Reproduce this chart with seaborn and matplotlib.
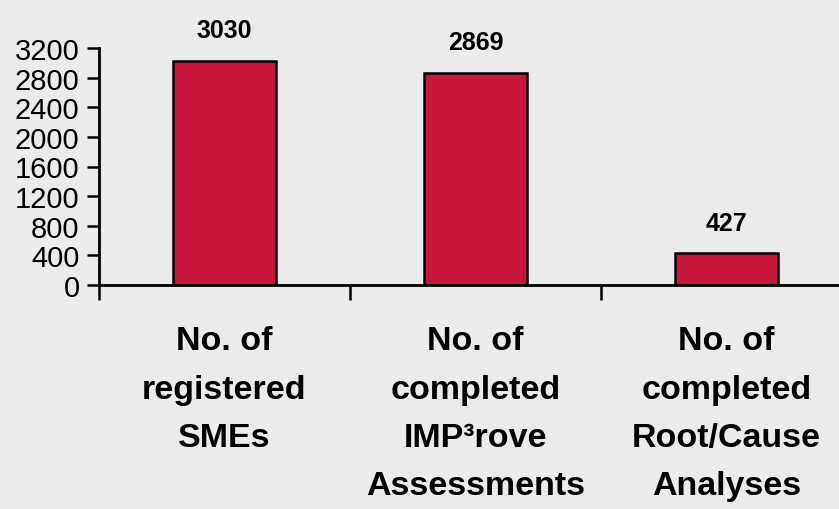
import matplotlib
matplotlib.use("Agg")
import matplotlib.pyplot as plt
import seaborn as sns
import pandas as pd

# data
categories = ["No. of\nregistered\nSMEs",
              "No. of\ncompleted\nIMP³rove\nAssessments",
              "No. of\ncompleted\nRoot/Cause\nAnalyses"]
values = [3030, 2869, 427]
yticks = [0, 400, 800, 1200, 1600, 2000, 2400, 2800, 3200]

df = pd.DataFrame({"cat": categories, "val": values})

sns.set_theme(style="ticks")
plt.rcParams['font.family'] = ['Liberation Sans', 'DejaVu Sans']
plt.rcParams['text.color'] = 'black'
plt.rcParams['xtick.color'] = 'black'
plt.rcParams['ytick.color'] = 'black'

bg = "#EBEBEB"
fig = plt.figure(figsize=(8.39, 5.10), dpi=100, facecolor=bg)
ax = fig.add_axes([99 / 839, 224 / 510, 753 / 839, 237 / 510])
ax.set_facecolor(bg)

sns.barplot(data=df, x="cat", y="val", color="#C8173C", saturation=1,
            width=0.41, edgecolor="black", linewidth=1.8, ax=ax)

ax.set_xlim(-0.5, 2.5)
ax.set_ylim(0, 3200)
ax.set_yticks(yticks)
ax.set_yticklabels([str(t) for t in yticks], fontsize=21)
ax.set_xlabel("")
ax.set_ylabel("")

# category labels at bar centres, boundary ticks as minor ticks
ax.set_xticks(range(len(categories)))
ax.set_xticklabels(categories, fontsize=24.5, fontweight="bold", linespacing=1.72)
ax.set_xticks([-0.5, 0.5, 1.5, 2.5], minor=True)
ax.tick_params(axis="x", which="major", bottom=True, length=0, pad=29)
ax.tick_params(axis="x", which="minor", bottom=True, length=11, width=1.8,
               color="black", direction="out")
ax.tick_params(axis="y", left=True, length=9, width=1.8, color="black",
               direction="out", pad=5)

for s in ["top", "right"]:
    ax.spines[s].set_visible(False)
for s in ["left", "bottom"]:
    ax.spines[s].set_color("black")
    ax.spines[s].set_linewidth(2)

for i, v in enumerate(values):
    ax.annotate(str(v), (i, v), xytext=(0, 22), textcoords="offset points",
                ha="center", va="center", fontsize=18, fontweight="bold")

fig.savefig("out.png", dpi=100, facecolor=bg)
